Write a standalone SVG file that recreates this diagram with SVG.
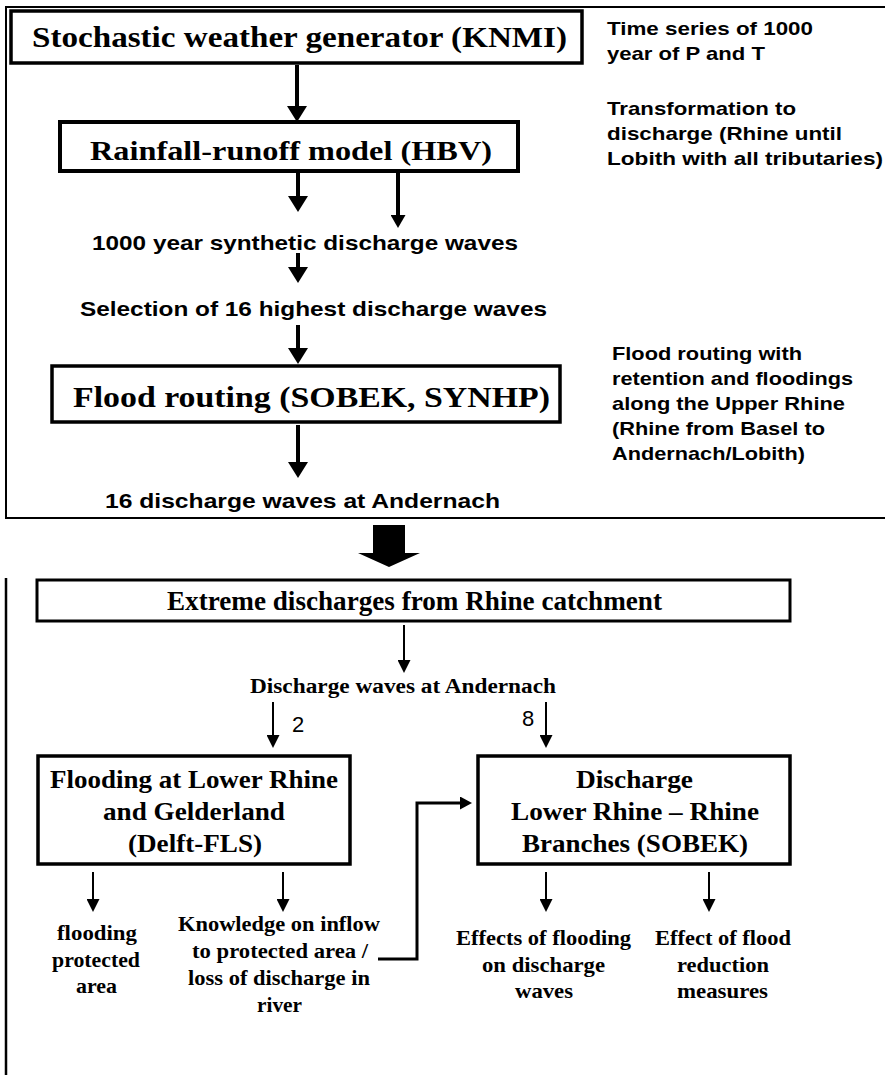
<svg xmlns="http://www.w3.org/2000/svg" width="885" height="1075" viewBox="0 0 885 1075">
<style>
.box{fill:#fff;stroke:#000;stroke-width:3.5}
.frame{fill:none;stroke:#000;stroke-width:2}
.tr{font-family:"Liberation Serif","Times New Roman",serif;font-weight:bold;fill:#000}
.ar{font-family:"Liberation Sans",Arial,sans-serif;font-weight:bold;fill:#000}
.num{font-family:"Liberation Sans",Arial,sans-serif;font-size:22px;fill:#000}
.thick{fill:none;stroke:#000;stroke-width:4}
.thin{fill:none;stroke:#000;stroke-width:2}
.conn{fill:none;stroke:#000;stroke-width:3}
</style>
<defs>
<marker id="hBig" markerUnits="userSpaceOnUse" markerWidth="16" markerHeight="20" refX="0" refY="10" orient="auto" viewBox="0 0 16 20"><path d="M0,0 L16,10 L0,20 z" fill="#000"/></marker>
<marker id="hMid" markerUnits="userSpaceOnUse" markerWidth="13" markerHeight="15" refX="0" refY="7.5" orient="auto" viewBox="0 0 13 15"><path d="M0,0 L13,7.5 L0,15 z" fill="#000"/></marker>
<marker id="hSm" markerUnits="userSpaceOnUse" markerWidth="13" markerHeight="13" refX="0" refY="6.5" orient="auto" viewBox="0 0 13 13"><path d="M0,0 L13,6.5 L0,13 z" fill="#000"/></marker>
<marker id="hConn" markerUnits="userSpaceOnUse" markerWidth="12" markerHeight="13" refX="0" refY="6.5" orient="auto" viewBox="0 0 12 13"><path d="M0,0 L12,6.5 L0,13 z" fill="#000"/></marker>
</defs>

<g id="frames">
<path class="frame" d="M885,7 H6 V518 H885"/>
<path class="frame" d="M6,578 V1075" style="stroke-width:2.5"/>
</g>

<g id="connectors">
<path class="thick" d="M297,65 V106" marker-end="url(#hBig)"/>
<path class="thick" d="M298,173 V196" marker-end="url(#hBig)"/>
<path class="thick" d="M398,167 V215" marker-end="url(#hMid)"/>
<path class="thick" d="M298,253 V267" marker-end="url(#hBig)"/>
<path class="thick" d="M298,325 V348" marker-end="url(#hBig)"/>
<path class="thick" d="M298,425 V462" marker-end="url(#hBig)"/>
<polygon points="373,525 405,525 405,553 420,553 389,567 358,553 373,553" fill="#000"/>
<path class="thin" d="M404,625 V660" marker-end="url(#hSm)"/>
<path class="thin" d="M273,702 V735" marker-end="url(#hSm)"/>
<path class="thin" d="M546,702 V735" marker-end="url(#hSm)"/>
<path class="thin" d="M93,872 V899" marker-end="url(#hSm)"/>
<path class="thin" d="M283,872 V899" marker-end="url(#hSm)"/>
<path class="thin" d="M546,872 V899" marker-end="url(#hSm)"/>
<path class="thin" d="M709,872 V899" marker-end="url(#hSm)"/>
<path class="conn" d="M378,959 H417 V803 H460" marker-end="url(#hConn)"/>
</g>

<g id="n-weather">
<rect class="box" x="11" y="11" width="571" height="52"/>
<text class="tr" x="32" y="47" font-size="30" textLength="535" lengthAdjust="spacingAndGlyphs">Stochastic weather generator (KNMI)</text>
</g>
<g id="n-rainfall">
<rect class="box" x="60" y="122" width="458" height="49" style="stroke-width:4"/>
<text class="tr" x="90" y="160" font-size="28" textLength="402" lengthAdjust="spacingAndGlyphs">Rainfall-runoff model (HBV)</text>
</g>
<g id="t-1000">
<text class="ar" x="92" y="250" font-size="21" textLength="426" lengthAdjust="spacingAndGlyphs">1000 year synthetic discharge waves</text>
</g>
<g id="t-selection">
<text class="ar" x="80" y="316" font-size="21" textLength="467" lengthAdjust="spacingAndGlyphs">Selection of 16 highest discharge waves</text>
</g>
<g id="n-flood">
<rect class="box" x="52" y="366" width="508" height="56"/>
<text class="tr" x="73" y="407" font-size="30" textLength="477" lengthAdjust="spacingAndGlyphs">Flood routing (SOBEK, SYNHP)</text>
</g>
<g id="t-16">
<text class="ar" x="105" y="508" font-size="21" textLength="395" lengthAdjust="spacingAndGlyphs">16 discharge waves at Andernach</text>
</g>

<g id="notes">
<text class="ar" x="607" y="35" font-size="19" textLength="206" lengthAdjust="spacingAndGlyphs">Time series of 1000</text>
<text class="ar" x="607" y="60" font-size="19" textLength="158" lengthAdjust="spacingAndGlyphs">year of P and T</text>
<text class="ar" x="607" y="115" font-size="19" textLength="189" lengthAdjust="spacingAndGlyphs">Transformation to</text>
<text class="ar" x="607" y="140" font-size="19" textLength="235" lengthAdjust="spacingAndGlyphs">discharge (Rhine until</text>
<text class="ar" x="607" y="165" font-size="19" textLength="276" lengthAdjust="spacingAndGlyphs">Lobith with all tributaries)</text>
<text class="ar" x="612" y="360" font-size="19" textLength="190" lengthAdjust="spacingAndGlyphs">Flood routing with</text>
<text class="ar" x="612" y="385" font-size="19" textLength="241" lengthAdjust="spacingAndGlyphs">retention and floodings</text>
<text class="ar" x="612" y="410" font-size="19" textLength="233" lengthAdjust="spacingAndGlyphs">along the Upper Rhine</text>
<text class="ar" x="612" y="435" font-size="19" textLength="213" lengthAdjust="spacingAndGlyphs">(Rhine from Basel to</text>
<text class="ar" x="612" y="460" font-size="19" textLength="193" lengthAdjust="spacingAndGlyphs">Andernach/Lobith)</text>
</g>

<g id="n-extreme">
<rect class="box" x="37" y="580" width="753" height="41" style="stroke-width:3"/>
<text class="tr" x="167" y="610" font-size="27" textLength="495" lengthAdjust="spacingAndGlyphs">Extreme discharges from Rhine catchment</text>
</g>
<g id="t-andernach">
<text class="tr" x="250" y="693" font-size="20" textLength="306" lengthAdjust="spacingAndGlyphs">Discharge waves at Andernach</text>
<text class="num" x="292" y="732">2</text>
<text class="num" x="522" y="726">8</text>
</g>
<g id="n-flooding">
<rect class="box" x="38" y="756" width="312" height="108"/>
<text class="tr" x="50" y="788" font-size="25" textLength="288" lengthAdjust="spacingAndGlyphs">Flooding at Lower Rhine</text>
<text class="tr" x="103" y="820" font-size="25" textLength="182" lengthAdjust="spacingAndGlyphs">and Gelderland</text>
<text class="tr" x="128" y="852" font-size="25" textLength="134" lengthAdjust="spacingAndGlyphs">(Delft-FLS)</text>
</g>
<g id="n-discharge">
<rect class="box" x="478" y="756" width="312" height="108"/>
<text class="tr" x="576" y="788" font-size="25" textLength="117" lengthAdjust="spacingAndGlyphs">Discharge</text>
<text class="tr" x="511" y="820" font-size="25" textLength="248" lengthAdjust="spacingAndGlyphs">Lower Rhine – Rhine</text>
<text class="tr" x="522" y="852" font-size="25" textLength="226" lengthAdjust="spacingAndGlyphs">Branches (SOBEK)</text>
</g>
<g id="t-protected">
<text class="tr" x="57" y="940" font-size="22" textLength="80" lengthAdjust="spacingAndGlyphs">flooding</text>
<text class="tr" x="52" y="967" font-size="22" textLength="88" lengthAdjust="spacingAndGlyphs">protected</text>
<text class="tr" x="76" y="993" font-size="22" textLength="41" lengthAdjust="spacingAndGlyphs">area</text>
</g>
<g id="t-knowledge">
<text class="tr" x="178" y="931" font-size="22" textLength="202" lengthAdjust="spacingAndGlyphs">Knowledge on inflow</text>
<text class="tr" x="192" y="958" font-size="22" textLength="176" lengthAdjust="spacingAndGlyphs">to protected area /</text>
<text class="tr" x="188" y="985" font-size="22" textLength="182" lengthAdjust="spacingAndGlyphs">loss of discharge in</text>
<text class="tr" x="257" y="1012" font-size="22" textLength="45" lengthAdjust="spacingAndGlyphs">river</text>
</g>
<g id="t-effects">
<text class="tr" x="456" y="945" font-size="22" textLength="175" lengthAdjust="spacingAndGlyphs">Effects of flooding</text>
<text class="tr" x="482" y="972" font-size="22" textLength="123" lengthAdjust="spacingAndGlyphs">on discharge</text>
<text class="tr" x="515" y="998" font-size="22" textLength="58" lengthAdjust="spacingAndGlyphs">waves</text>
</g>
<g id="t-effect">
<text class="tr" x="655" y="945" font-size="22" textLength="136" lengthAdjust="spacingAndGlyphs">Effect of flood</text>
<text class="tr" x="677" y="972" font-size="22" textLength="92" lengthAdjust="spacingAndGlyphs">reduction</text>
<text class="tr" x="677" y="998" font-size="22" textLength="91" lengthAdjust="spacingAndGlyphs">measures</text>
</g>
</svg>
